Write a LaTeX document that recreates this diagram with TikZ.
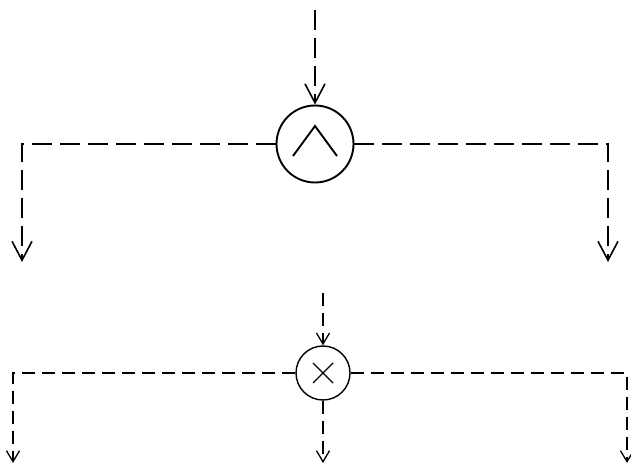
\documentclass[tikz,border=0pt]{standalone}
\usetikzlibrary{arrows.meta}
\begin{document}
\begin{tikzpicture}[x=1pt,y=-1pt,
  bigflow/.style={line width=1.9pt, dash pattern=on 20pt off 8pt, -{Straight Barb[length=19pt,width=20pt,line width=1.6pt]}},
  bigline/.style={line width=1.9pt, dash pattern=on 20pt off 8pt},
  smallflow/.style={line width=1.4pt, dash pattern=on 13pt off 7pt, -{Straight Barb[length=11pt,width=13pt,line width=1.3pt]}},
  gate/.style={circle, draw, inner sep=0pt},
]
\useasboundingbox (0,0) rectangle (631,465);
% top gate
\node[gate, line width=1.9pt, minimum size=77pt] (g1) at (315,144) {};
\draw[line width=1.9pt] ([shift={(-22,12)}]g1.center) -- ([shift={(0,-18)}]g1.center) -- ([shift={(22,12)}]g1.center);
\coordinate (in1) at (315,10);
\coordinate (o1l) at (22,262);
\coordinate (o1r) at (608,262);
\draw[bigflow] (in1) -- (g1.north);
\draw[bigflow] (g1.west) -| (o1l);
\draw[bigflow] (g1.east) -| (o1r);
% bottom gate
\node[gate, line width=1.4pt, minimum size=54pt] (g2) at (323,373) {};
\draw[line width=1.4pt] ([shift={(-10,-10)}]g2.center) -- ([shift={(10,10)}]g2.center)
  ([shift={(-10,10)}]g2.center) -- ([shift={(10,-10)}]g2.center);
\coordinate (in2) at (323,293);
\coordinate (o2l) at (13,463);
\coordinate (o2m) at (323,463);
\coordinate (o2r) at (627,463);
\draw[smallflow] (in2) -- (g2.north);
\draw[smallflow] (g2.west) -| (o2l);
\draw[smallflow] (g2.east) -| (o2r);
\draw[smallflow] (g2.south) -- (o2m);
\end{tikzpicture}
\end{document}
